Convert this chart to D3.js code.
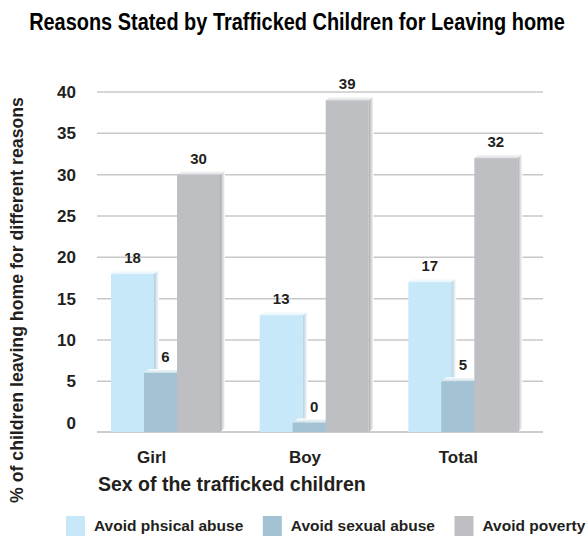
<!DOCTYPE html>
<html>
<head>
<meta charset="utf-8">
<script src="https://cdn.jsdelivr.net/npm/d3@7"></script>
<style>
  body { margin: 0; background: #fff; }
  text { font-family: "Liberation Sans", Arial, sans-serif; font-weight: bold; fill: #231f20; }
</style>
</head>
<body>
<svg id="chart" width="587" height="536"></svg>
<script>
// Reasons given for leaving home, % of children by sex
const categories = ["Girl", "Boy", "Total"];
const seriesNames = ["Avoid phsical abuse", "Avoid sexual abuse", "Avoid poverty"];
const physicalAbuse = [18, 13, 17];
const sexualAbuse = [6, 0, 5];
const poverty = [30, 39, 32];
const yTicks = [0, 5, 10, 15, 20, 25, 30, 35, 40];

const seriesValues = [physicalAbuse, sexualAbuse, poverty];
const fills = ["#c7e8f8", "#a3c2d3", "#bebfc3"];
const capFills = ["#e6f5fc", "#c9dde7", "#dcdde0"];

const svg = d3.select("#chart");

// plot geometry
const plotLeft = 97, plotRight = 543;
const floorY = 432;          // front edge of the floor
const depth = 5;             // pseudo-3D extrusion
const barW = 43, barStep = 33, groupPad = 14;

const x0 = d3.scaleBand().domain(categories).range([plotLeft, plotRight]);
const y = d3.scaleLinear().domain([0, 40]).range([422.6, 92]);

// gradients for the bar tops and sides
const defs = svg.append("defs");
fills.forEach((c, i) => {
  const side = defs.append("linearGradient").attr("id", "side" + i)
    .attr("x1", "0").attr("x2", "1").attr("y1", "0").attr("y2", "0");
  side.append("stop").attr("offset", "0%").attr("stop-color", d3.color(c).darker(0.35));
  side.append("stop").attr("offset", "100%").attr("stop-color", "#ffffff");
  const cap = defs.append("linearGradient").attr("id", "cap" + i)
    .attr("x1", "0").attr("x2", "0").attr("y1", "0").attr("y2", "1");
  cap.append("stop").attr("offset", "0%").attr("stop-color", "#ffffff");
  cap.append("stop").attr("offset", "100%").attr("stop-color", capFills[i]);
});

// title, condensed horizontally to the chart width
const title = svg.append("text")
  .attr("x", 0).attr("y", 0)
  .attr("text-anchor", "middle")
  .style("font-family", '"Liberation Sans Narrow", "Arial Narrow", "Liberation Sans", sans-serif')
  .style("font-size", "24px")
  .style("fill", "#000")
  .text("Reasons Stated by Trafficked Children for Leaving home");
const titleW = title.node().getComputedTextLength();
title.attr("transform", `translate(297,30) scale(${536 / titleW},1)`);

// gridlines on the back wall
svg.append("g").selectAll("line")
  .data(yTicks.filter(t => t > 0))
  .join("line")
  .attr("x1", plotLeft).attr("x2", plotRight)
  .attr("y1", d => y(d)).attr("y2", d => y(d))
  .attr("stroke", "#c8c8c8").attr("stroke-width", 1.5);

// floor edge
svg.append("line")
  .attr("x1", plotLeft).attr("x2", plotRight)
  .attr("y1", floorY).attr("y2", floorY)
  .attr("stroke", "#bdbdbd").attr("stroke-width", 1.5);

// y tick labels
svg.append("g").selectAll("text")
  .data(yTicks)
  .join("text")
  .attr("x", 76).attr("y", d => y(d))
  .attr("dy", "0.36em")
  .attr("text-anchor", "end")
  .style("font-size", "17px")
  .text(d => d);

// bars
const bars = [];
categories.forEach((c, ci) => {
  seriesValues.forEach((vals, si) => {
    bars.push({ cat: c, si, value: vals[ci] });
  });
});

const barG = svg.append("g");
bars.forEach(b => {
  const l = x0(b.cat) + groupPad + b.si * barStep;
  const r = l + barW;
  const t = y(b.value);
  const g = barG.append("g");
  // right side
  g.append("polygon")
    .attr("points", [[r, t], [r + depth, t - depth + 1], [r + depth, floorY - depth + 1], [r, floorY]].join(" "))
    .attr("fill", `url(#side${b.si})`);
  // top
  g.append("polygon")
    .attr("points", [[l, t], [l + depth, t - depth + 1], [r + depth, t - depth + 1], [r, t]].join(" "))
    .attr("fill", `url(#cap${b.si})`);
  // front
  g.append("rect")
    .attr("x", l).attr("y", t)
    .attr("width", barW).attr("height", floorY - t)
    .attr("fill", fills[b.si]);
});

// value labels
svg.append("g").selectAll("text")
  .data(bars)
  .join("text")
  .attr("x", d => x0(d.cat) + groupPad + d.si * barStep + barW / 2)
  .attr("y", d => y(d.value) - 11)
  .attr("text-anchor", "middle")
  .style("font-size", "15px")
  .text(d => d.value);

// category axis
const xLabel = d3.scaleBand().domain(categories).range([75, 535]);
const xAxis = svg.append("g")
  .attr("transform", `translate(0,${floorY + 15})`)
  .call(d3.axisBottom(xLabel).tickSize(0));
xAxis.select(".domain").remove();
xAxis.selectAll("text")
  .attr("dy", "0.75em")
  .style("font-family", '"Liberation Sans", Arial, sans-serif')
  .style("font-weight", "bold")
  .style("font-size", "17px")
  .style("fill", "#231f20");

// axis titles
svg.append("text")
  .attr("x", 98).attr("y", 491)
  .style("font-size", "19.5px")
  .text("Sex of the trafficked children");

svg.append("text")
  .attr("transform", "translate(23,300) rotate(-90)")
  .attr("text-anchor", "middle")
  .style("font-size", "17.7px")
  .text("% of children leaving home for different reasons");

// legend
const legend = svg.append("g");
let lx = 66;
seriesNames.forEach((name, i) => {
  legend.append("rect")
    .attr("x", lx).attr("y", 516)
    .attr("width", 19).attr("height", 20)
    .attr("fill", fills[i]);
  const t = legend.append("text")
    .attr("x", lx + 28).attr("y", 531)
    .style("font-size", "15.5px")
    .text(name);
  lx += 28 + t.node().getComputedTextLength() + 19.5;
});
</script>
</body>
</html>
